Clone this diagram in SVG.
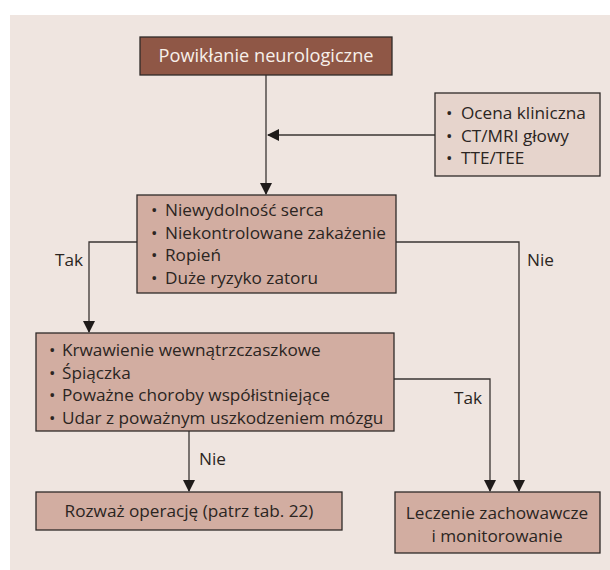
<svg xmlns="http://www.w3.org/2000/svg" width="610" height="570" viewBox="0 0 610 570">
<defs>
<style>
.bg{fill:#EFE5E0}
.box{fill:#D2ADA1;stroke:#2f2a28;stroke-width:1.3}
.info{fill:#E6D4CC;stroke:#2f2a28;stroke-width:1.3}
.title{fill:#8F5746;stroke:#2f2a28;stroke-width:1.3}
text{font-family:"Open Sans","Liberation Sans",sans-serif;font-size:17.2px;fill:#2b2522}
.w{fill:#F7F0EA}
.c{text-anchor:middle}
.ln{fill:none;stroke:#3a3533;stroke-width:1.3}
</style>
<marker id="ah" markerWidth="12" markerHeight="12" refX="11" refY="6" orient="auto" markerUnits="userSpaceOnUse">
<path d="M0,0 L12,6 L0,12 Z" fill="#1f1b1a"/>
</marker>
</defs>
<rect class="bg" x="10" y="15" width="600" height="555"/>
<g id="connectors">
<path class="ln" d="M266,75 V194" marker-end="url(#ah)"/>
<path class="ln" d="M435,135 H268" marker-end="url(#ah)"/>
<path class="ln" d="M137,242 H89 V332" marker-end="url(#ah)"/>
<path class="ln" d="M396,242 H519 V491" marker-end="url(#ah)"/>
<path class="ln" d="M394,379 H490 V491" marker-end="url(#ah)"/>
<path class="ln" d="M189,431 V491" marker-end="url(#ah)"/>
<text x="55" y="266">Tak</text>
<text x="527" y="266">Nie</text>
<text x="454" y="404">Tak</text>
<text x="199" y="465">Nie</text>
</g>
<g id="n-title">
<rect class="title" x="140" y="37" width="252" height="38"/>
<text class="w c" x="266" y="62" style="font-size:18.2px">Powikłanie neurologiczne</text>
</g>
<g id="n-info">
<rect class="info" x="435" y="93" width="165" height="83"/>
<text x="446" y="119">•</text><text x="461" y="119">Ocena kliniczna</text>
<text x="446" y="141.5">•</text><text x="461" y="141.5">CT/MRI głowy</text>
<text x="446" y="164">•</text><text x="461" y="164">TTE/TEE</text>
</g>
<g id="n-criteria">
<rect class="box" x="137" y="195" width="259" height="98"/>
<text x="151" y="216">•</text><text x="165" y="216">Niewydolność serca</text>
<text x="151" y="238.5">•</text><text x="165" y="238.5">Niekontrolowane zakażenie</text>
<text x="151" y="261">•</text><text x="165" y="261">Ropień</text>
<text x="151" y="283.5">•</text><text x="165" y="283.5">Duże ryzyko zatoru</text>
</g>
<g id="n-contra">
<rect class="box" x="36" y="333" width="358" height="98"/>
<text x="49" y="356">•</text><text x="62" y="356">Krwawienie wewnątrzczaszkowe</text>
<text x="49" y="378.5">•</text><text x="62" y="378.5">Śpiączka</text>
<text x="49" y="401">•</text><text x="62" y="401">Poważne choroby współistniejące</text>
<text x="49" y="423.5">•</text><text x="62" y="423.5">Udar z poważnym uszkodzeniem mózgu</text>
</g>
<g id="n-surgery">
<rect class="box" x="36" y="492" width="306" height="38"/>
<text class="c" x="189" y="517">Rozważ operację (patrz tab. 22)</text>
</g>
<g id="n-conservative">
<rect class="box" x="395" y="492" width="205" height="61"/>
<text class="c" x="497" y="519">Leczenie zachowawcze</text>
<text class="c" x="497" y="542">i monitorowanie</text>
</g>
</svg>
